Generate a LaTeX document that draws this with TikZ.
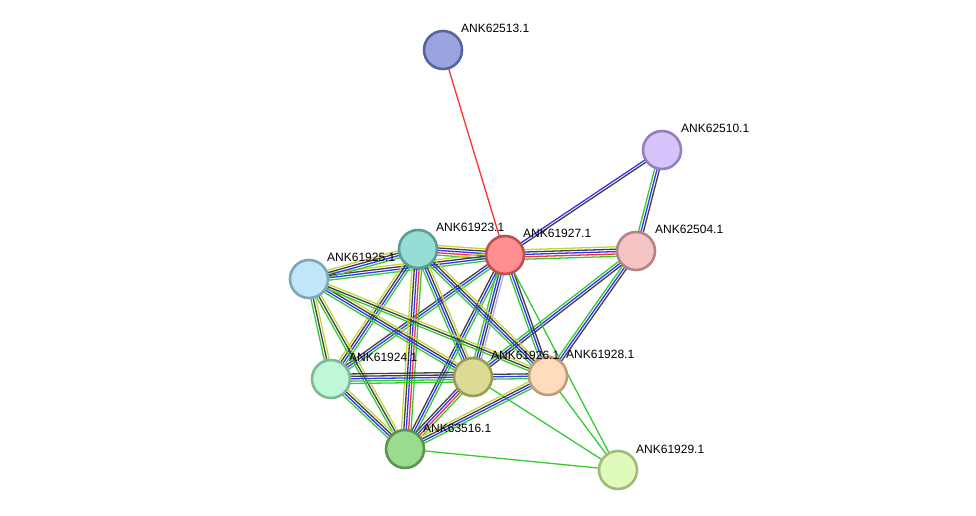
\documentclass[tikz,border=0pt]{standalone}
\usepackage{fontspec}
\setmainfont{Liberation Sans}
\usetikzlibrary{calc,backgrounds}
\definecolor{sgreen}{HTML}{33CC33}
\definecolor{sred}{HTML}{FF3030}
\definecolor{sblue}{HTML}{3333FF}
\definecolor{sblack}{HTML}{404040}
\definecolor{syellow}{HTML}{C4D43C}
\definecolor{spale}{HTML}{A8A8FF}
\tikzset{
  edgeline/.style={line width=1.3pt},
  prot/.style={circle, minimum size=38pt, inner sep=0pt, line width=2.6pt},
  lbl/.style={anchor=west, font=\fontsize{12pt}{14pt}\selectfont, inner sep=0pt, text=black}
}
\newcommand{\sedge}[3]{%
  \foreach \c [count=\i] in {#3} {\xdef\ncount{\i}}%
  \foreach \c [count=\i] in {#3} {%
    \pgfmathsetmacro\off{(\i-(\ncount+1)/2)*2.4}%
    \draw[\c, edgeline] ($(#1.center)!\off pt!90:(#2.center)$) -- ($(#2.center)!\off pt!-90:(#1.center)$);
  }}
\begin{document}
\begin{tikzpicture}[x=1pt,y=-1pt]
\useasboundingbox (0,0) rectangle (976,516);
\node[prot, fill={rgb,255:red,154;green,165;blue,224}, draw={rgb,255:red,88;green,100;blue,160}] (nA) at (443,50) {};
\node[prot, fill={rgb,255:red,213;green,195;blue,250}, draw={rgb,255:red,148;green,128;blue,186}] (nB) at (662,150) {};
\node[prot, fill={rgb,255:red,245;green,197;blue,197}, draw={rgb,255:red,180;green,132;blue,132}] (nC) at (636,251) {};
\node[prot, fill={rgb,255:red,255;green,142;blue,142}, draw={rgb,255:red,190;green,80;blue,80}] (nR) at (505,255) {};
\node[prot, fill={rgb,255:red,150;green,221;blue,213}, draw={rgb,255:red,90;green,158;blue,150}] (nT) at (418,249) {};
\node[prot, fill={rgb,255:red,192;green,230;blue,250}, draw={rgb,255:red,126;green,166;blue,186}] (nL) at (309,279) {};
\node[prot, fill={rgb,255:red,192;green,247;blue,214}, draw={rgb,255:red,128;green,183;blue,150}] (nM) at (331,379) {};
\node[prot, fill={rgb,255:red,220;green,219;blue,150}, draw={rgb,255:red,156;green,155;blue,86}] (nK) at (473,377) {};
\node[prot, fill={rgb,255:red,255;green,220;blue,188}, draw={rgb,255:red,190;green,156;blue,124}] (nP) at (548,376) {};
\node[prot, fill={rgb,255:red,154;green,219;blue,142}, draw={rgb,255:red,90;green,150;blue,80}] (nG) at (405,449) {};
\node[prot, fill={rgb,255:red,224;green,250;blue,187}, draw={rgb,255:red,160;green,186;blue,123}] (nY) at (618,470) {};

\node[lbl] (lA) at ($(nA.center)+(18,-22)$) {ANK62513.1};
\node[lbl] (lB) at ($(nB.center)+(19,-22)$) {ANK62510.1};
\node[lbl] (lC) at ($(nC.center)+(19,-22)$) {ANK62504.1};
\node[lbl] (lR) at ($(nR.center)+(18,-22)$) {ANK61927.1};
\node[lbl] (lT) at ($(nT.center)+(18,-22)$) {ANK61923.1};
\node[lbl] (lL) at ($(nL.center)+(18,-22)$) {ANK61925.1};
\node[lbl] (lM) at ($(nM.center)+(18,-22)$) {ANK61924.1};
\node[lbl] (lK) at ($(nK.center)+(18,-22)$) {ANK61926.1};
\node[lbl] (lP) at ($(nP.center)+(18,-22)$) {ANK61928.1};
\node[lbl] (lG) at ($(nG.center)+(18,-21)$) {ANK63516.1};
\node[lbl] (lY) at ($(nY.center)+(18,-21)$) {ANK61929.1};

\begin{pgfonlayer}{background}
\sedge{nA}{nR}{sred}
\sedge{nB}{nR}{sblue,sblack}
\sedge{nB}{nC}{sgreen,sblue,sblack}
\sedge{nR}{nC}{sgreen,sred,sblue,sblack,syellow}
\sedge{nC}{nK}{sgreen,sblue,sblack}
\sedge{nC}{nP}{sgreen,sblue,sblack}
\sedge{nT}{nR}{sgreen,sred,sblue,sblack,syellow}
\sedge{nL}{nR}{sgreen,sblue,sblack,syellow}
\sedge{nM}{nR}{sgreen,sblue,sblack}
\sedge{nR}{nK}{sgreen,sblue,sblack,spale}
\sedge{nR}{nP}{sgreen,sblue,sblack}
\sedge{nG}{nR}{sgreen,sblue,sblack}
\sedge{nR}{nY}{sgreen}
\sedge{nL}{nT}{sgreen,sblue,sblack,syellow}
\sedge{nM}{nT}{sgreen,sblue,sblack,syellow}
\sedge{nT}{nK}{sgreen,sblue,sblack,syellow}
\sedge{nT}{nP}{sgreen,sblue,sblack,syellow}
\sedge{nG}{nT}{sgreen,sred,sblue,sblack,syellow}
\sedge{nL}{nM}{sgreen,sblack,syellow}
\sedge{nL}{nK}{sgreen,sblue,sblack,syellow}
\sedge{nL}{nP}{sgreen,sblack,syellow}
\sedge{nL}{nG}{sgreen,sblack,syellow}
\sedge{nM}{nK}{sgreen,sgreen,sblue,sblack,sblack}
\sedge{nM}{nG}{sgreen,sblue,sblack,syellow}
\sedge{nK}{nP}{sgreen,sblue,sblack}
\sedge{nG}{nK}{sgreen,sred,sblue,sblack}
\sedge{nK}{nY}{sgreen}
\sedge{nG}{nP}{sgreen,sblue,sblack,syellow}
\sedge{nP}{nY}{sgreen}
\sedge{nG}{nY}{sgreen}
\end{pgfonlayer}
\end{tikzpicture}
\end{document}
